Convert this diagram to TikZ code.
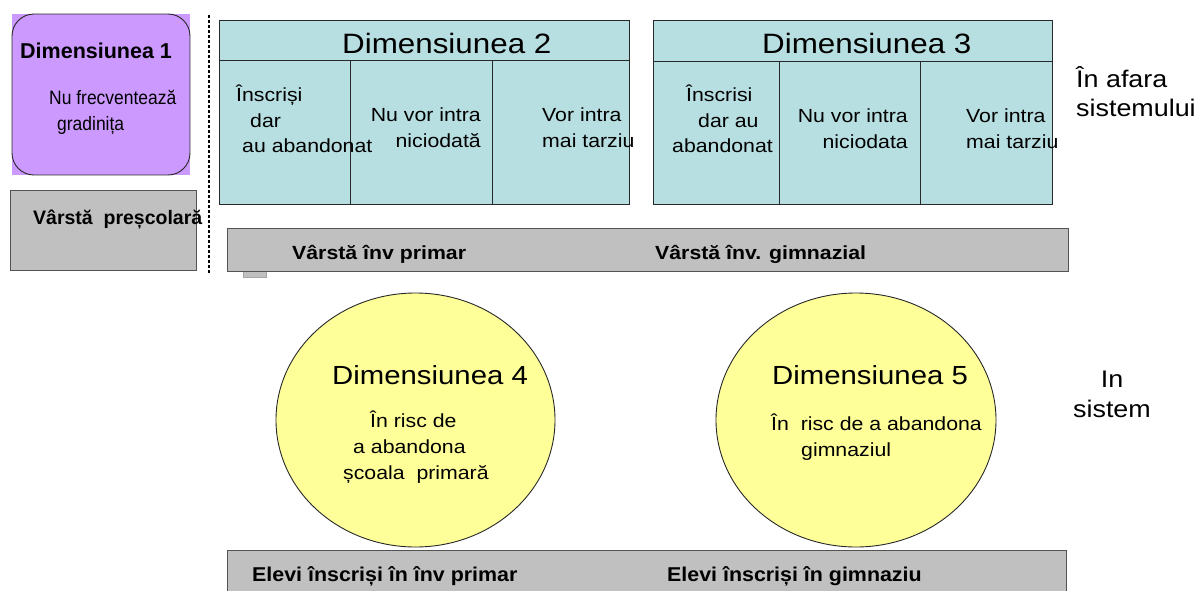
\documentclass[tikz,border=0pt]{standalone}
\usepackage{fontspec}
\setmainfont[FakeStretch=1.12]{Liberation Sans}
\newfontfamily\plainfont{Liberation Sans}
\newfontfamily\narrowfont[FakeStretch=0.9]{Liberation Sans}
\newfontfamily\barfont[FakeStretch=1.07]{Liberation Sans}
\usetikzlibrary{shapes.geometric}
\definecolor{tealbox}{RGB}{183,222,224}
\definecolor{yelfill}{RGB}{255,255,153}
\definecolor{purpfill}{RGB}{204,153,255}
\definecolor{grayfill}{RGB}{192,192,192}
\definecolor{edge}{RGB}{40,40,40}
\begin{document}
\begin{tikzpicture}[x=1pt,y=-1pt,
  txt/.style={inner sep=0pt, anchor=base west},
  txte/.style={inner sep=0pt, anchor=base east},
  txtc/.style={inner sep=0pt, anchor=base},
  big/.style={font=\fontsize{28}{32}\selectfont},
  mid/.style={font=\fontsize{26.2}{30}\selectfont},
  cell/.style={font=\fontsize{19}{22}\selectfont},
  side/.style={font=\fontsize{24}{28}\selectfont},
  barlbl/.style={font=\fontsize{19}{22}\selectfont\bfseries},
  pupillbl/.style={font=\barfont\fontsize{20}{23}\selectfont\bfseries},
  tealst/.style={fill=tealbox, draw=edge, line width=0.9pt},
  barst/.style={fill=grayfill, draw=edge!80, line width=0.9pt},
  ellst/.style={ellipse, fill=yelfill, draw=edge, line width=0.9pt, inner sep=0pt}]
\useasboundingbox (0,0) rectangle (1195,590);
\clip (0,0) rectangle (1195,590);

% Dimensiunea 1
\fill[purpfill] (12,14) rectangle (190,175);
\draw[edge, line width=0.9pt, rounded corners=22pt] (12,14) rectangle (190,175);
\node[txt, font=\plainfont\fontsize{21.5}{24}\selectfont\bfseries] (d1) at (20,58) {Dimensiunea 1};
\node[txt, font=\narrowfont\fontsize{19.4}{22}\selectfont] (d1a) at (49,104) {Nu frecventează};
\node[txt, font=\narrowfont\fontsize{19.4}{22}\selectfont] (d1b) at (57,130) {gradinița};

% Varsta prescolara
\draw[barst] (10,190) rectangle (196,270);
\node[txt, font=\plainfont\fontsize{19.5}{22}\selectfont\bfseries] (vp) at (33,224) {Vârstă~~preșcolară};

% dashed separator
\coordinate (sepA) at (209,15);
\coordinate (sepB) at (209,273);
\draw[black, line width=1.6pt, dash pattern=on 3pt off 2pt] (sepA) -- (sepB);

% Dimensiunea 2
\draw[tealst] (219,20) rectangle (629,204);
\draw[edge, line width=0.9pt] (219,60) -- (629,60) (350,60) -- (350,204) (492,60) -- (492,204);
\node[txt, big] (d2) at (342,53) {Dimensiunea 2};
\node[txt, cell] (d2a1) at (236,101) {Înscriși};
\node[txt, cell] (d2a2) at (250,127) {dar};
\node[txt, cell] (d2a3) at (242,152) {au abandonat};
\node[txte, cell] (d2b1) at (481,121) {Nu vor intra};
\node[txte, cell] (d2b2) at (481,147) {niciodată};
\node[txt, cell] (d2c1) at (542,121) {Vor intra};
\node[txt, cell] (d2c2) at (542,147) {mai tarziu};

% Dimensiunea 3
\draw[tealst] (653,20) rectangle (1052,204);
\draw[edge, line width=0.9pt] (653,61) -- (1052,61) (779,61) -- (779,204) (920,61) -- (920,204);
\node[txt, big] (d3) at (762,53) {Dimensiunea 3};
\node[txt, cell] (d3a1) at (686,101) {Înscrisi};
\node[txt, cell] (d3a2) at (698,127) {dar au};
\node[txt, cell] (d3a3) at (672,152) {abandonat};
\node[txte, cell] (d3b1) at (908,122) {Nu vor intra};
\node[txte, cell] (d3b2) at (908,148) {niciodata};
\node[txt, cell] (d3c1) at (966,122) {Vor intra};
\node[txt, cell] (d3c2) at (966,148) {mai tarziu};

% side labels
\node[txt, side] (out1) at (1076,87) {În afara};
\node[txt, side] (out2) at (1076,116) {sistemului};
\node[txtc, side] (in1) at (1112,387) {In};
\node[txtc, side] (in2) at (1112,417) {sistem};

% age bar
\draw[fill=grayfill, draw=gray!70, line width=0.6pt] (243,270) rectangle (266,277);
\draw[barst] (227,228) rectangle (1068,271);
\node[txt, barlbl] (b1) at (292,259) {Vârstă înv primar};
\node[txt, barlbl] (b2) at (655,259) {Vârstă înv. gimnazial};

% ellipses
\node[ellst, minimum width=279pt, minimum height=254pt] (e4) at (415.5,420) {};
\node[ellst, minimum width=280pt, minimum height=254pt] (e5) at (856,420) {};
\node[txt, mid] (d4) at (332,384) {Dimensiunea 4};
\node[txt, cell] (d4a) at (370,427) {În risc de};
\node[txt, cell] (d4b) at (353,453) {a abandona};
\node[txt, cell] (d4c) at (343,479) {școala~~primară};
\node[txt, mid] (d5) at (772,384) {Dimensiunea 5};
\node[txt, cell] (d5a) at (771,430) {În~~risc de a abandona};
\node[txt, cell] (d5b) at (801,456) {gimnaziul};

% pupils bar
\draw[barst] (227,550) rectangle (1066,600);
\node[txt, pupillbl] (p1) at (252,581) {Elevi înscriși în înv primar};
\node[txt, pupillbl] (p2) at (667,581) {Elevi înscriși în gimnaziu};
\end{tikzpicture}
\end{document}
